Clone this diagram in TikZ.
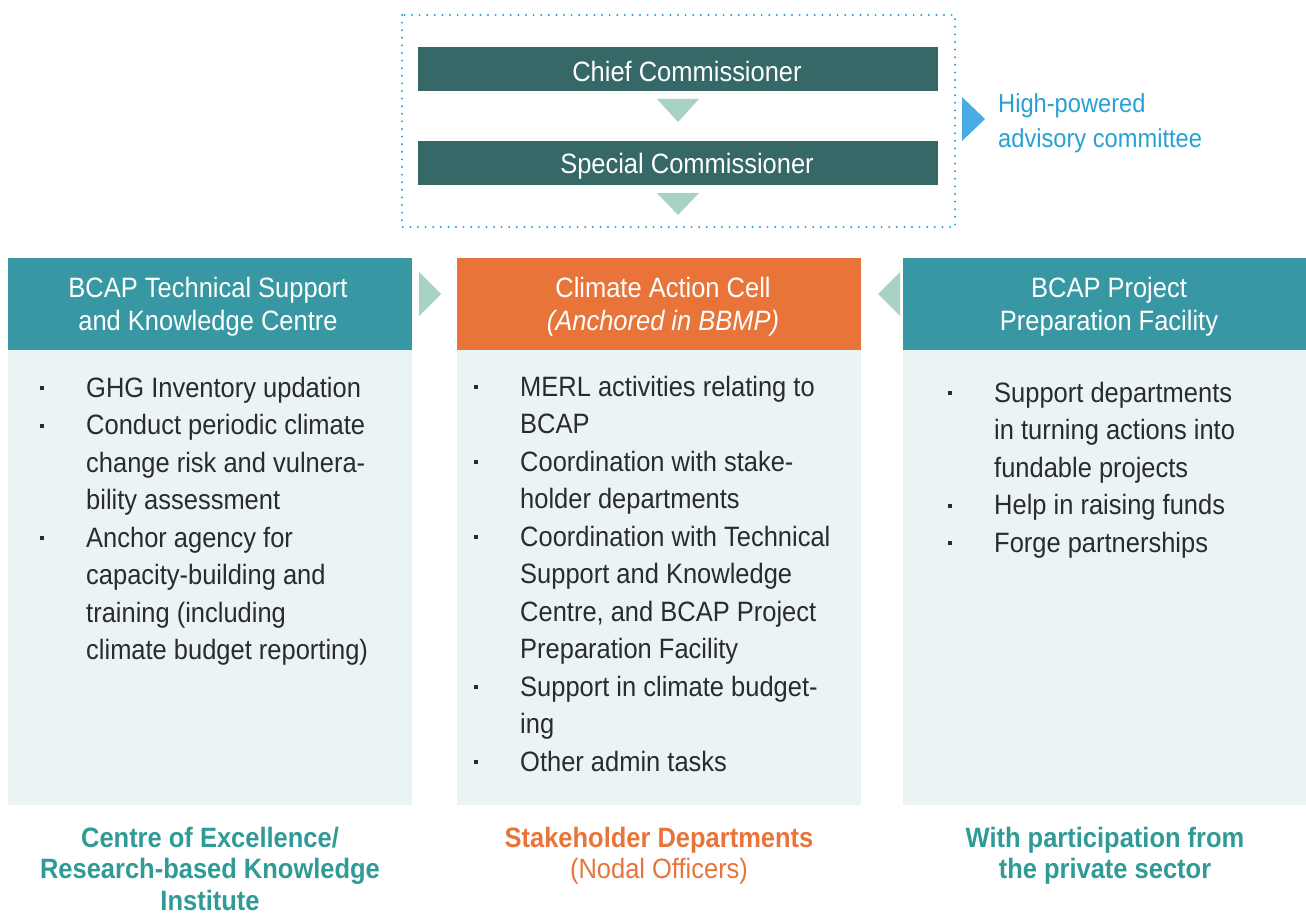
\documentclass[tikz,border=0pt]{standalone}
\usepackage{fontspec}
\setmainfont{Liberation Sans}[FakeStretch=0.91]
\usetikzlibrary{calc}
\definecolor{darkteal}{HTML}{356866}
\definecolor{headteal}{HTML}{3798A3}
\definecolor{orangec}{HTML}{E8743A}
\definecolor{bodybg}{HTML}{EAF4F5}
\definecolor{mint}{HTML}{A7D2C5}
\definecolor{dotblue}{HTML}{1EA0D8}
\definecolor{triblue}{HTML}{4AABE5}
\definecolor{txtblue}{HTML}{27A0D2}
\definecolor{botteal}{HTML}{2F9A96}
\definecolor{bodytxt}{HTML}{2B2B2B}
\newcommand{\bul}{\makebox[46pt][l]{\rule[7pt]{4pt}{4pt}}}
\newcommand{\ind}{\hspace*{46pt}}
\tikzset{
  bar/.style={fill=darkteal, inner sep=0, outer sep=0, anchor=north west, minimum width=520pt, minimum height=44pt},
  bartxt/.style={text=white, font=\fontsize{28}{33}\selectfont},
  headbox/.style={inner sep=0, outer sep=0, anchor=north west, minimum width=404pt, minimum height=92pt},
  bodybox/.style={fill=bodybg, inner sep=0, outer sep=0, anchor=north west, minimum width=404pt, minimum height=455pt},
  headtxt/.style={text=white, align=center, font=\fontsize{28}{33}\selectfont},
  listtxt/.style={text=bodytxt, align=left, anchor=north west, inner sep=0, font=\fontsize{28}{37.5}\selectfont},
  bottxt/.style={align=center, anchor=north, inner sep=0, font=\fontsize{28}{31.5}\selectfont}
}
\begin{document}
\begin{tikzpicture}[x=1pt,y=-1pt]
\useasboundingbox (0,0) rectangle (1306,915);
% dotted frame
\draw[dotblue, line width=2.2pt, dash pattern=on 0pt off 7.6pt, line cap=round] (402,15) rectangle (955,227);
% top bars
\node[bar] (chief) at (418,47) {};
\node[bartxt] (chieft) at ($(chief.center)+(9,2)$) {Chief Commissioner};
\node[bar] (special) at (418,141) {};
\node[bartxt] (specialt) at ($(special.center)+(9,3)$) {Special Commissioner};
\fill[mint] ($(chief.south)+(-21,8)$) -- ($(chief.south)+(21,8)$) -- ($(chief.south)+(0,31)$) -- cycle;
\fill[mint] ($(special.south)+(-21,8)$) -- ($(special.south)+(21,8)$) -- ($(special.south)+(0,30)$) -- cycle;
% advisory
\coordinate (adv) at (962,119);
\fill[triblue] ($(adv)+(0,-22)$) -- ($(adv)+(23,0)$) -- ($(adv)+(0,22)$) -- cycle;
\node[anchor=west, inner sep=0, text=txtblue, align=left, font=\fontsize{26}{35}\selectfont] (advtxt) at (998,123) {High-powered\\advisory committee};
% columns
\node[headbox, fill=headteal] (lh) at (8,258) {};
\node[headbox, fill=orangec] (ch) at (457,258) {};
\node[headbox, fill=headteal] (rh) at (903,258) {};
\node[bodybox] (lb) at (8,350) {};
\node[bodybox] (cb) at (457,350) {};
\node[bodybox] (rb) at (903,350) {};
\node[headtxt] (lht) at ($(lh.center)+(-2,3)$) {BCAP Technical Support\\and Knowledge Centre};
\node[headtxt] (cht) at ($(ch.center)+(4,3)$) {Climate Action Cell\\\textit{(Anchored in BBMP)}};
\node[headtxt] (rht) at ($(rh.center)+(4,3)$) {BCAP Project\\Preparation Facility};
% side triangles
\fill[mint] ($(lh.east)+(7,-32)$) -- ($(lh.east)+(29,-10)$) -- ($(lh.east)+(7,12)$) -- cycle;
\fill[mint] ($(rh.west)+(-3,-32)$) -- ($(rh.west)+(-25,-10)$) -- ($(rh.west)+(-3,12)$) -- cycle;
% lists
\node[listtxt] (ll) at (40,377) {\bul GHG Inventory updation\\
\bul Conduct periodic climate\\
\ind change risk and vulnera-\\
\ind bility assessment\\
\bul Anchor agency for\\
\ind capacity-building and\\
\ind training (including\\
\ind climate budget reporting)};
\node[listtxt] (cl) at (474,376) {\bul MERL activities relating to\\
\ind BCAP\\
\bul Coordination with stake-\\
\ind holder departments\\
\bul Coordination with Technical\\
\ind Support and Knowledge\\
\ind Centre, and BCAP Project\\
\ind Preparation Facility\\
\bul Support in climate budget-\\
\ind ing\\
\bul Other admin tasks};
\node[listtxt] (rl) at (948,382) {\bul Support departments\\
\ind in turning actions into\\
\ind fundable projects\\
\bul Help in raising funds\\
\bul Forge partnerships};
% bottom labels
\node[bottxt, text=botteal, font=\fontsize{28}{31.5}\selectfont\bfseries] (lbot) at ($(lb.south)+(0,22)$) {Centre of Excellence/\\Research-based Knowledge\\Institute};
\node[bottxt, text=orangec] (cbot) at ($(cb.south)+(0,22)$) {\textbf{Stakeholder Departments}\\(Nodal Officers)};
\node[bottxt, text=botteal, font=\fontsize{28}{31.5}\selectfont\bfseries] (rbot) at ($(rb.south)+(0,22)$) {With participation from\\the private sector};
\end{tikzpicture}
\end{document}
